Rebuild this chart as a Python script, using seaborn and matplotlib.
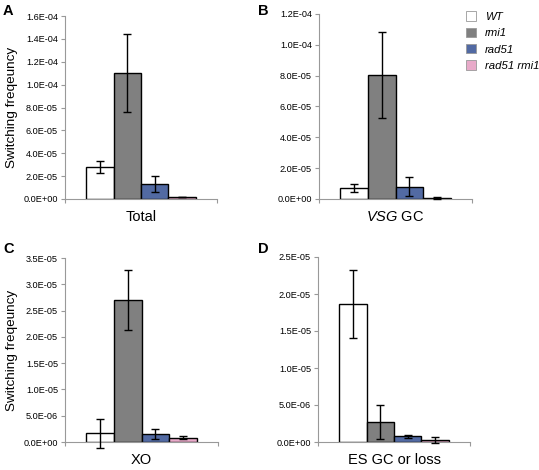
import matplotlib
matplotlib.use("Agg")
import matplotlib.pyplot as plt
import matplotlib.ticker as mticker
import seaborn as sns
import pandas as pd

strains = ["WT", "rmi1", "rad51", "rad51 rmi1"]
colors = ["#ffffff", "#808080", "#4565b1", "#f2a0c9"]

panels = ["Total", "VSG GC", "XO", "ES GC or loss"]
letters = ["A", "B", "C", "D"]

total_vals = [2.8e-5, 1.10e-4, 1.3e-5, 1.7e-6]
total_errs = [0.5e-5, 3.4e-5, 0.72e-5, 0.3e-6]
vsg_vals = [7.1e-6, 8.03e-5, 8.0e-6, 7e-7]
vsg_errs = [2.7e-6, 2.78e-5, 6.3e-6, 4e-7]
xo_vals = [1.65e-6, 2.70e-5, 1.5e-6, 8e-7]
xo_errs = [2.7e-6, 5.7e-6, 0.95e-6, 3e-7]
es_vals = [1.86e-5, 2.75e-6, 7.6e-7, 2.7e-7]
es_errs = [4.6e-6, 2.3e-6, 2.5e-7, 3.5e-7]

ymax = [1.6e-4, 1.2e-4, 3.5e-5, 2.5e-5]
ystep = [2e-5, 2e-5, 5e-6, 5e-6]

values = [total_vals, vsg_vals, xo_vals, es_vals]
errors = [total_errs, vsg_errs, xo_errs, es_errs]

plt.rcParams['font.family'] = ['Liberation Sans', 'DejaVu Sans']
plt.rcParams['mathtext.fontset'] = 'custom'
plt.rcParams['mathtext.rm'] = 'Liberation Sans'
plt.rcParams['mathtext.it'] = 'Liberation Sans:italic'

fig = plt.figure(figsize=(5.39, 4.70), dpi=100)
rects = [
    [65 / 539, 1 - 199 / 470, 152 / 539, 183 / 470],
    [319 / 539, 1 - 199 / 470, 153 / 539, 185 / 470],
    [65 / 539, 1 - 442 / 470, 153 / 539, 184 / 470],
    [318 / 539, 1 - 442 / 470, 152 / 539, 185 / 470],
]
xlabels = ["Total", r"$\it{VSG}$ GC", "XO", "ES GC or loss"]

for i in range(4):
    ax = fig.add_axes(rects[i])
    df = pd.DataFrame({"panel": [panels[i]] * 4, "strain": strains,
                       "value": values[i], "err": errors[i]})
    sns.barplot(data=df, x="panel", y="value", hue="strain",
                hue_order=strains, palette=colors, width=0.72,
                edgecolor="black", linewidth=1, errorbar=None,
                legend=(i == 1), ax=ax)
    # error bars on the bar centres seaborn placed
    bars = ax.patches[:4]
    xs = [b.get_x() + b.get_width() / 2 for b in bars]
    ax.errorbar(xs, values[i], yerr=errors[i], fmt="none", ecolor="black",
                elinewidth=1, capsize=3, capthick=1, clip_on=False, zorder=5)

    ax.set_xlim(-0.5, 0.5)
    ax.set_ylim(0, ymax[i])
    ax.yaxis.set_major_locator(mticker.MultipleLocator(ystep[i]))
    ax.yaxis.set_major_formatter(mticker.FuncFormatter(lambda v, p: f"{v:.1E}"))
    ax.set_xticks([0])
    ax.set_xticklabels([xlabels[i]], fontsize=10.5)
    ax.set_xticks([-0.5, 0.5], minor=True)
    ax.tick_params(axis="x", which="major", length=0, pad=8)
    ax.tick_params(axis="x", which="minor", length=3, color="#999999", width=0.8)
    ax.tick_params(axis="y", labelsize=6.6, length=3, color="#999999", width=0.8, pad=2)
    ax.set_xlabel("")
    if i in (0, 2):
        ax.set_ylabel("Switching freqeuncy", fontsize=9.7, labelpad=4)
    else:
        ax.set_ylabel("")
    for s in ["top", "right"]:
        ax.spines[s].set_visible(False)
    for s in ["left", "bottom"]:
        ax.spines[s].set_color("#999999")
        ax.spines[s].set_linewidth(0.8)

    if i == 1:
        leg = ax.legend(loc="upper left", bbox_to_anchor=(0.93, 1.04),
                        frameon=False, prop={"style": "italic", "size": 8.2},
                        handlelength=0.9, handleheight=0.9, labelspacing=0.5,
                        handletextpad=0.8, borderaxespad=0)
        for h in leg.legend_handles:
            h.set_edgecolor("#999999")
            h.set_linewidth(0.6)

letter_pos = [(3, 11), (258, 11), (3, 249), (258, 249)]
for l, (px, py) in zip(letters, letter_pos):
    fig.text(px / 539, 1 - py / 470, l, fontsize=10.5, fontweight="bold",
             va="center", ha="left")

fig.savefig("out.png", dpi=100)
